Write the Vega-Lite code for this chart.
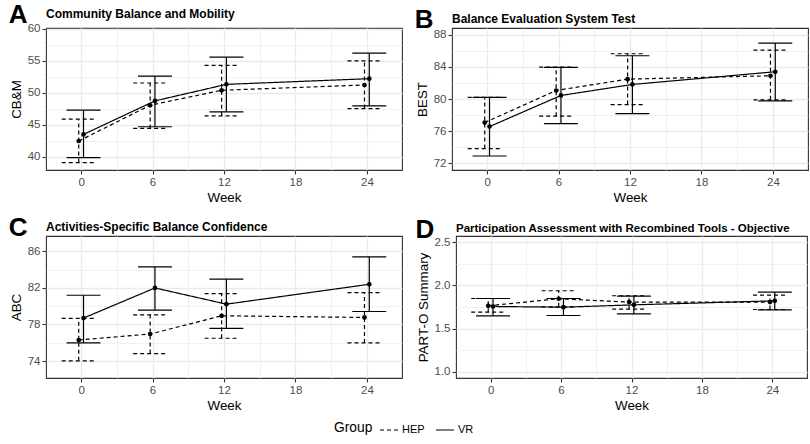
{
  "$schema": "https://vega.github.io/schema/vega-lite/v6.json",
  "padding": {"left": 8, "top": 2, "right": 3, "bottom": 2},
  "autosize": {"type": "pad"},
  "background": "white",
  "datasets": {
    "A": [
      {"week": 0, "group": "HEP", "mean": 42.44, "lower": 39.06, "upper": 45.87},
      {"week": 6, "group": "HEP", "mean": 48.05, "lower": 44.42, "upper": 51.53},
      {"week": 12, "group": "HEP", "mean": 50.39, "lower": 46.39, "upper": 54.29},
      {"week": 24, "group": "HEP", "mean": 51.22, "lower": 47.53, "upper": 55.01},
      {"week": 0, "group": "VR", "mean": 43.48, "lower": 39.84, "upper": 47.27},
      {"week": 6, "group": "VR", "mean": 48.73, "lower": 44.68, "upper": 52.62},
      {"week": 12, "group": "VR", "mean": 51.32, "lower": 47.01, "upper": 55.58},
      {"week": 24, "group": "VR", "mean": 52.21, "lower": 47.95, "upper": 56.21}
    ],
    "B": [
      {"week": 0, "group": "HEP", "mean": 77.07, "lower": 73.83, "upper": 80.19},
      {"week": 6, "group": "HEP", "mean": 81.06, "lower": 77.86, "upper": 83.97},
      {"week": 12, "group": "HEP", "mean": 82.47, "lower": 79.31, "upper": 85.63},
      {"week": 24, "group": "HEP", "mean": 82.89, "lower": 79.9, "upper": 86.09},
      {"week": 0, "group": "VR", "mean": 76.57, "lower": 72.91, "upper": 80.19},
      {"week": 6, "group": "VR", "mean": 80.44, "lower": 76.94, "upper": 83.93},
      {"week": 12, "group": "VR", "mean": 81.81, "lower": 78.19, "upper": 85.38},
      {"week": 24, "group": "VR", "mean": 83.39, "lower": 79.77, "upper": 86.96}
    ],
    "C": [
      {"week": 0, "group": "HEP", "mean": 76.31, "lower": 74.04, "upper": 78.66},
      {"week": 6, "group": "HEP", "mean": 76.96, "lower": 74.83, "upper": 79.06},
      {"week": 12, "group": "HEP", "mean": 78.95, "lower": 76.5, "upper": 81.37},
      {"week": 24, "group": "HEP", "mean": 78.77, "lower": 75.99, "upper": 81.48},
      {"week": 0, "group": "VR", "mean": 78.7, "lower": 75.99, "upper": 81.19},
      {"week": 6, "group": "VR", "mean": 81.99, "lower": 79.57, "upper": 84.3},
      {"week": 12, "group": "VR", "mean": 80.22, "lower": 77.58, "upper": 82.96},
      {"week": 24, "group": "VR", "mean": 82.39, "lower": 79.42, "upper": 85.39}
    ],
    "D": [
      {"week": 0, "group": "HEP", "mean": 1.764, "lower": 1.69, "upper": 1.849},
      {"week": 6, "group": "HEP", "mean": 1.846, "lower": 1.752, "upper": 1.939},
      {"week": 12, "group": "HEP", "mean": 1.807, "lower": 1.725, "upper": 1.881},
      {"week": 24, "group": "HEP", "mean": 1.807, "lower": 1.721, "upper": 1.888},
      {"week": 0, "group": "VR", "mean": 1.756, "lower": 1.647, "upper": 1.849},
      {"week": 6, "group": "VR", "mean": 1.748, "lower": 1.651, "upper": 1.849},
      {"week": 12, "group": "VR", "mean": 1.775, "lower": 1.67, "upper": 1.877},
      {"week": 24, "group": "VR", "mean": 1.822, "lower": 1.717, "upper": 1.923}
    ]
  },
  "vconcat": [
    {
      "spacing": 11,
      "hconcat": [
        {
          "title": {"text": "A", "anchor": "start", "frame": "bounds", "fontSize": 26, "fontWeight": "bold", "offset": -21},
          "vconcat": [
            {
              "width": 356, "height": 142,
              "title": {"text": "Community Balance and Mobility", "anchor": "start", "frame": "group", "fontSize": 12, "fontWeight": "bold", "offset": 2},
              "data": {"name": "A"},
              "encoding": {
                "x": {"field": "week", "type": "quantitative", "title": "Week",
                  "scale": {"domain": [-2.95, 26.95], "nice": false, "zero": false},
                  "axis": {"values": [0, 3, 6, 9, 12, 15, 18, 21, 24], "labelExpr": "datum.value % 6 === 0 ? datum.label : ''",
                    "gridWidth": {"condition": {"test": "datum.value % 6 !== 0", "value": 0.7}, "value": 1.4},
                    "tickOpacity": {"condition": {"test": "datum.value % 6 !== 0", "value": 0}, "value": 1}}},
                "y": {"field": "mean", "type": "quantitative", "title": "CB&M",
                  "scale": {"domain": [37.9, 60.15], "nice": false, "zero": false},
                  "axis": {"values": [40, 42.5, 45, 47.5, 50, 52.5, 55, 57.5, 60], "labelExpr": "datum.value % 5 === 0 ? datum.label : ''",
                    "gridWidth": {"condition": {"test": "datum.value % 5 !== 0", "value": 0.7}, "value": 1.4},
                    "tickOpacity": {"condition": {"test": "datum.value % 5 !== 0", "value": 0}, "value": 1}}}
              },
              "layer": [
                {"mark": {"type": "line", "color": "black", "strokeWidth": 1.2, "xOffset": {"expr": "datum.group === 'HEP' ? -2.4 : 2.4"}},
                 "encoding": {"strokeDash": {"field": "group", "type": "nominal", "title": "Group", "scale": {"domain": ["HEP", "VR"], "range": [[4, 3], [1, 0]]}}}},
                {"mark": {"type": "rule", "color": "black", "strokeWidth": 1.2, "xOffset": {"expr": "datum.group === 'HEP' ? -2.4 : 2.4"}},
                 "encoding": {"y": {"field": "lower", "type": "quantitative", "title": "CB&M"}, "y2": {"field": "upper"},
                   "strokeDash": {"field": "group", "type": "nominal", "title": "Group"}}},
                {"mark": {"type": "rule", "color": "black", "strokeWidth": 1.2, "xOffset": {"expr": "datum.group === 'HEP' ? -19.4 : -14.6"}, "x2Offset": {"expr": "datum.group === 'HEP' ? 14.6 : 19.4"}},
                 "encoding": {"x2": {"field": "week"}, "y": {"field": "upper", "type": "quantitative", "title": "CB&M"},
                   "strokeDash": {"field": "group", "type": "nominal", "title": "Group"}}},
                {"mark": {"type": "rule", "color": "black", "strokeWidth": 1.2, "xOffset": {"expr": "datum.group === 'HEP' ? -19.4 : -14.6"}, "x2Offset": {"expr": "datum.group === 'HEP' ? 14.6 : 19.4"}},
                 "encoding": {"x2": {"field": "week"}, "y": {"field": "lower", "type": "quantitative", "title": "CB&M"},
                   "strokeDash": {"field": "group", "type": "nominal", "title": "Group"}}},
                {"mark": {"type": "point", "filled": true, "color": "black", "opacity": 1, "size": 22, "xOffset": {"expr": "datum.group === 'HEP' ? -2.4 : 2.4"}}}
              ]
            }
          ]
        },
        {
          "title": {"text": "B", "anchor": "start", "frame": "bounds", "fontSize": 26, "fontWeight": "bold", "offset": -21},
          "vconcat": [
            {
              "width": 356, "height": 142,
              "title": {"text": "Balance Evaluation System Test", "anchor": "start", "frame": "group", "fontSize": 12, "fontWeight": "bold", "offset": 2},
              "data": {"name": "B"},
              "encoding": {
                "x": {"field": "week", "type": "quantitative", "title": "Week",
                  "scale": {"domain": [-2.95, 26.95], "nice": false, "zero": false},
                  "axis": {"values": [0, 3, 6, 9, 12, 15, 18, 21, 24], "labelExpr": "datum.value % 6 === 0 ? datum.label : ''",
                    "gridWidth": {"condition": {"test": "datum.value % 6 !== 0", "value": 0.7}, "value": 1.4},
                    "tickOpacity": {"condition": {"test": "datum.value % 6 !== 0", "value": 0}, "value": 1}}},
                "y": {"field": "mean", "type": "quantitative", "title": "BEST",
                  "scale": {"domain": [71.17, 88.83], "nice": false, "zero": false},
                  "axis": {"values": [72, 74, 76, 78, 80, 82, 84, 86, 88], "labelExpr": "datum.value % 4 === 0 ? datum.label : ''",
                    "gridWidth": {"condition": {"test": "datum.value % 4 !== 0", "value": 0.7}, "value": 1.4},
                    "tickOpacity": {"condition": {"test": "datum.value % 4 !== 0", "value": 0}, "value": 1}}}
              },
              "layer": [
                {"mark": {"type": "line", "color": "black", "strokeWidth": 1.2, "xOffset": {"expr": "datum.group === 'HEP' ? -2.4 : 2.4"}},
                 "encoding": {"strokeDash": {"field": "group", "type": "nominal", "title": "Group"}}},
                {"mark": {"type": "rule", "color": "black", "strokeWidth": 1.2, "xOffset": {"expr": "datum.group === 'HEP' ? -2.4 : 2.4"}},
                 "encoding": {"y": {"field": "lower", "type": "quantitative", "title": "BEST"}, "y2": {"field": "upper"},
                   "strokeDash": {"field": "group", "type": "nominal", "title": "Group"}}},
                {"mark": {"type": "rule", "color": "black", "strokeWidth": 1.2, "xOffset": {"expr": "datum.group === 'HEP' ? -19.4 : -14.6"}, "x2Offset": {"expr": "datum.group === 'HEP' ? 14.6 : 19.4"}},
                 "encoding": {"x2": {"field": "week"}, "y": {"field": "upper", "type": "quantitative", "title": "BEST"},
                   "strokeDash": {"field": "group", "type": "nominal", "title": "Group"}}},
                {"mark": {"type": "rule", "color": "black", "strokeWidth": 1.2, "xOffset": {"expr": "datum.group === 'HEP' ? -19.4 : -14.6"}, "x2Offset": {"expr": "datum.group === 'HEP' ? 14.6 : 19.4"}},
                 "encoding": {"x2": {"field": "week"}, "y": {"field": "lower", "type": "quantitative", "title": "BEST"},
                   "strokeDash": {"field": "group", "type": "nominal", "title": "Group"}}},
                {"mark": {"type": "point", "filled": true, "color": "black", "opacity": 1, "size": 22, "xOffset": {"expr": "datum.group === 'HEP' ? -2.4 : 2.4"}}}
              ]
            }
          ]
        }
      ]
    },
    {
      "spacing": 12,
      "hconcat": [
        {
          "title": {"text": "C", "anchor": "start", "frame": "bounds", "fontSize": 26, "fontWeight": "bold", "offset": -21},
          "vconcat": [
            {
              "width": 356, "height": 142,
              "title": {"text": "Activities-Specific Balance Confidence", "anchor": "start", "frame": "group", "fontSize": 12, "fontWeight": "bold", "offset": 2},
              "data": {"name": "C"},
              "encoding": {
                "x": {"field": "week", "type": "quantitative", "title": "Week",
                  "scale": {"domain": [-2.95, 26.95], "nice": false, "zero": false},
                  "axis": {"values": [0, 3, 6, 9, 12, 15, 18, 21, 24], "labelExpr": "datum.value % 6 === 0 ? datum.label : ''",
                    "gridWidth": {"condition": {"test": "datum.value % 6 !== 0", "value": 0.7}, "value": 1.4},
                    "tickOpacity": {"condition": {"test": "datum.value % 6 !== 0", "value": 0}, "value": 1}}},
                "y": {"field": "mean", "type": "quantitative", "title": "ABC",
                  "scale": {"domain": [72.16, 87.66], "nice": false, "zero": false},
                  "axis": {"values": [74, 76, 78, 80, 82, 84, 86], "labelExpr": "(datum.value - 74) % 4 === 0 ? datum.label : ''",
                    "gridWidth": {"condition": {"test": "(datum.value - 74) % 4 !== 0", "value": 0.7}, "value": 1.4},
                    "tickOpacity": {"condition": {"test": "(datum.value - 74) % 4 !== 0", "value": 0}, "value": 1}}}
              },
              "layer": [
                {"mark": {"type": "line", "color": "black", "strokeWidth": 1.2, "xOffset": {"expr": "datum.group === 'HEP' ? -2.4 : 2.4"}},
                 "encoding": {"strokeDash": {"field": "group", "type": "nominal", "title": "Group"}}},
                {"mark": {"type": "rule", "color": "black", "strokeWidth": 1.2, "xOffset": {"expr": "datum.group === 'HEP' ? -2.4 : 2.4"}},
                 "encoding": {"y": {"field": "lower", "type": "quantitative", "title": "ABC"}, "y2": {"field": "upper"},
                   "strokeDash": {"field": "group", "type": "nominal", "title": "Group"}}},
                {"mark": {"type": "rule", "color": "black", "strokeWidth": 1.2, "xOffset": {"expr": "datum.group === 'HEP' ? -19.4 : -14.6"}, "x2Offset": {"expr": "datum.group === 'HEP' ? 14.6 : 19.4"}},
                 "encoding": {"x2": {"field": "week"}, "y": {"field": "upper", "type": "quantitative", "title": "ABC"},
                   "strokeDash": {"field": "group", "type": "nominal", "title": "Group"}}},
                {"mark": {"type": "rule", "color": "black", "strokeWidth": 1.2, "xOffset": {"expr": "datum.group === 'HEP' ? -19.4 : -14.6"}, "x2Offset": {"expr": "datum.group === 'HEP' ? 14.6 : 19.4"}},
                 "encoding": {"x2": {"field": "week"}, "y": {"field": "lower", "type": "quantitative", "title": "ABC"},
                   "strokeDash": {"field": "group", "type": "nominal", "title": "Group"}}},
                {"mark": {"type": "point", "filled": true, "color": "black", "opacity": 1, "size": 22, "xOffset": {"expr": "datum.group === 'HEP' ? -2.4 : 2.4"}}}
              ]
            }
          ]
        },
        {
          "title": {"text": "D", "anchor": "start", "frame": "bounds", "fontSize": 26, "fontWeight": "bold", "offset": -21},
          "vconcat": [
            {
              "width": 351, "height": 142,
              "title": {"text": "Participation Assessment with Recombined Tools - Objective", "anchor": "start", "frame": "group", "fontSize": 11.5, "fontWeight": "bold", "offset": 2},
              "data": {"name": "D"},
              "encoding": {
                "x": {"field": "week", "type": "quantitative", "title": "Week",
                  "scale": {"domain": [-2.95, 26.95], "nice": false, "zero": false},
                  "axis": {"values": [0, 3, 6, 9, 12, 15, 18, 21, 24], "labelExpr": "datum.value % 6 === 0 ? datum.label : ''",
                    "gridWidth": {"condition": {"test": "datum.value % 6 !== 0", "value": 0.7}, "value": 1.4},
                    "tickOpacity": {"condition": {"test": "datum.value % 6 !== 0", "value": 0}, "value": 1}}},
                "y": {"field": "mean", "type": "quantitative", "title": "PART-O Summary",
                  "scale": {"domain": [0.925, 2.575], "nice": false, "zero": false},
                  "axis": {"values": [1, 1.25, 1.5, 1.75, 2, 2.25, 2.5], "labelExpr": "(datum.value * 2) % 1 === 0 ? format(datum.value, '.1f') : ''",
                    "gridWidth": {"condition": {"test": "(datum.value * 2) % 1 !== 0", "value": 0.7}, "value": 1.4},
                    "tickOpacity": {"condition": {"test": "(datum.value * 2) % 1 !== 0", "value": 0}, "value": 1}}}
              },
              "layer": [
                {"mark": {"type": "line", "color": "black", "strokeWidth": 1.2, "xOffset": {"expr": "datum.group === 'HEP' ? -2.4 : 2.4"}},
                 "encoding": {"strokeDash": {"field": "group", "type": "nominal", "title": "Group"}}},
                {"mark": {"type": "rule", "color": "black", "strokeWidth": 1.2, "xOffset": {"expr": "datum.group === 'HEP' ? -2.4 : 2.4"}},
                 "encoding": {"y": {"field": "lower", "type": "quantitative", "title": "PART-O Summary"}, "y2": {"field": "upper"},
                   "strokeDash": {"field": "group", "type": "nominal", "title": "Group"}}},
                {"mark": {"type": "rule", "color": "black", "strokeWidth": 1.2, "xOffset": {"expr": "datum.group === 'HEP' ? -19.4 : -14.6"}, "x2Offset": {"expr": "datum.group === 'HEP' ? 14.6 : 19.4"}},
                 "encoding": {"x2": {"field": "week"}, "y": {"field": "upper", "type": "quantitative", "title": "PART-O Summary"},
                   "strokeDash": {"field": "group", "type": "nominal", "title": "Group"}}},
                {"mark": {"type": "rule", "color": "black", "strokeWidth": 1.2, "xOffset": {"expr": "datum.group === 'HEP' ? -19.4 : -14.6"}, "x2Offset": {"expr": "datum.group === 'HEP' ? 14.6 : 19.4"}},
                 "encoding": {"x2": {"field": "week"}, "y": {"field": "lower", "type": "quantitative", "title": "PART-O Summary"},
                   "strokeDash": {"field": "group", "type": "nominal", "title": "Group"}}},
                {"mark": {"type": "point", "filled": true, "color": "black", "opacity": 1, "size": 22, "xOffset": {"expr": "datum.group === 'HEP' ? -2.4 : 2.4"}}}
              ]
            }
          ]
        }
      ]
    }
  ],
  "spacing": 10,
  "resolve": {"scale": {"strokeDash": "shared"}, "legend": {"strokeDash": "shared"}},
  "config": {
    "font": "Liberation Sans",
    "view": {"stroke": "#333333", "strokeWidth": 1.1},
    "title": {"font": "Liberation Sans", "color": "black"},
    "axis": {
      "domain": false, "grid": true, "gridColor": "#EBEBEB",
      "tickColor": "#333333", "tickSize": 4, "tickWidth": 1.1,
      "labelColor": "#4D4D4D", "labelFontSize": 11.5, "labelFont": "Liberation Sans", "labelPadding": 2,
      "titleFont": "Liberation Sans", "titleFontSize": 13.4, "titleFontWeight": "normal", "titleColor": "black"
    },
    "axisX": {"titlePadding": 3},
    "axisY": {"titlePadding": 4},
    "legend": {
      "orient": "none", "legendX": 288, "legendY": 392, "direction": "horizontal", "titleOrient": "left",
      "titleFontSize": 13.8, "titleFontWeight": "normal", "titleColor": "black", "titleFont": "Liberation Sans",
      "labelFontSize": 11, "labelColor": "black", "labelFont": "Liberation Sans",
      "symbolType": "stroke", "symbolStrokeWidth": 1.2, "symbolSize": 324, "symbolStrokeColor": "black",
      "columnPadding": 8, "titlePadding": 6, "labelOffset": 3
    }
  }
}
